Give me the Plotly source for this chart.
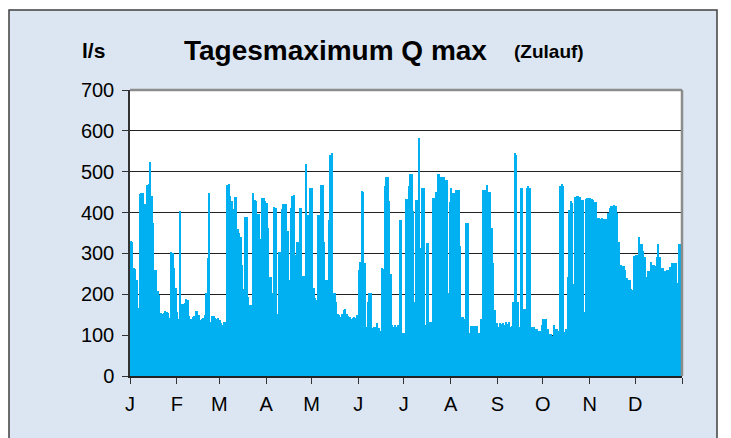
import numpy as np
import plotly.graph_objects as go

# Daily maximum inflow (l/s), one value per day
jan = [330,328,265,262,235,167,445,448,447,420,421,468,470,523,440,375,260,259,209,198,154,152,155,158,156,155,142,304,302,265,215]
feb = [156,140,405,176,176,178,188,186,148,140,144,148,160,158,150,138,140,142,150,203,289,447,133,148,146,142,140,142]
mar = [136,130,124,132,132,468,470,440,428,409,438,438,360,350,340,272,214,388,388,193,173,173,448,430,429,397,397,335,436,436,428]
apr = [424,363,242,243,203,413,412,152,304,304,409,421,421,420,356,235,410,440,442,296,327,327,410,410,244,244,520,395,394,461]
may = [461,215,191,185,395,394,467,467,327,235,235,382,540,547,203,202,180,152,149,144,152,162,164,152,147,144,140,142,144,142,150]
jun = [259,280,454,451,277,121,180,203,202,117,120,120,130,117,111,264,262,466,487,487,429,249,124,120,124,120,124,382,382,105]
jul = [105,433,433,465,494,494,405,182,431,431,582,313,459,459,125,325,325,132,132,435,435,451,494,494,486,486,486,480,480,203,427]
aug = [459,447,447,455,455,455,317,145,145,140,375,375,105,123,123,122,122,122,105,105,139,455,455,455,468,451,451,362,276,162,129]
sep = [120,130,128,130,125,132,128,132,120,122,181,547,540,181,120,461,459,165,165,461,465,459,121,121,120,115,115,111,111,126]
okt = [140,140,140,115,103,103,99,124,115,115,111,465,469,465,107,115,243,407,429,424,226,439,440,440,439,432,432,157,433,435,435]
nov = [435,433,431,427,427,386,386,385,386,385,384,385,398,410,416,417,419,416,400,329,272,270,269,259,239,236,235,212,210,294]
dez = [296,296,340,323,323,305,292,242,256,256,280,272,272,269,292,322,292,264,264,258,258,260,260,268,276,276,276,276,228,322,322]

month_labels = ["J", "F", "M", "A", "M", "J", "J", "A", "S", "O", "N", "D"]
y_ticks = [0, 100, 200, 300, 400, 500, 600, 700]

months = [jan, feb, mar, apr, may, jun, jul, aug, sep, okt, nov, dez]
values = [v for m in months for v in m]
month_lengths = [len(m) for m in months]
month_starts = [int(s) for s in np.concatenate([[0], np.cumsum(month_lengths)])]
n_days = len(values)
day_pos = np.arange(n_days) + 0.5

FONT = "Arial, Liberation Sans, sans-serif"
BAR = "#00b0f0"

fig = go.Figure()
fig.add_trace(go.Bar(
    x=day_pos, y=values, width=1.0,
    marker=dict(color=BAR, line=dict(width=0)),
    hoverinfo="skip",
))

# the page body adds an 8px offset; the figure is sized to fill the rest
OFF = 8
W, H = 731 - OFF, 438 - OFF
L, R, T, B = 130 - OFF, 731 - 682, 90 - OFF, 438 - 376
pw, ph = W - L - R, H - T - B

def px_x(px):
    return (px - OFF - L) / pw

def px_y(py):
    return (H - B - (py - OFF)) / ph

shapes = [
    dict(type="rect", xref="paper", yref="paper",
         x0=px_x(9), x1=px_x(717), y0=px_y(450), y1=px_y(10),
         fillcolor="#dce6f2", line=dict(color="#3f3f3f", width=1.5), layer="below"),
    dict(type="rect", xref="paper", yref="paper",
         x0=0, x1=1, y0=0, y1=1, fillcolor="white", line=dict(width=0), layer="below"),
    dict(type="line", xref="paper", yref="paper", x0=0, x1=1, y0=1, y1=1,
         line=dict(color="#8c8c8c", width=2.5)),
    dict(type="line", xref="paper", yref="paper", x0=1, x1=1, y0=0, y1=1,
         line=dict(color="#8c8c8c", width=2.5)),
]

annotations = [
    dict(text="<b>l/s</b>", xref="paper", yref="paper", x=px_x(93), y=px_y(50),
         showarrow=False, font=dict(family=FONT, size=21, color="black"),
         xanchor="center", yanchor="middle"),
    dict(text="<b>Tagesmaximum Q max</b>", xref="paper", yref="paper",
         x=px_x(335), y=px_y(50), showarrow=False,
         font=dict(family=FONT, size=28, color="black"),
         xanchor="center", yanchor="middle"),
    dict(text="<b>(Zulauf)</b>", xref="paper", yref="paper",
         x=px_x(549), y=px_y(52), showarrow=False,
         font=dict(family=FONT, size=19, color="black"),
         xanchor="center", yanchor="middle"),
]

fig.update_layout(
    width=W, height=H,
    margin=dict(l=L, r=R, t=T, b=B, pad=0),
    paper_bgcolor="white",
    plot_bgcolor="rgba(0,0,0,0)",
    bargap=0,
    showlegend=False,
    shapes=shapes,
    annotations=annotations,
    xaxis=dict(
        range=[0, n_days],
        tickvals=month_starts,
        ticktext=month_labels + [""],
        ticks="outside", ticklen=6, tickwidth=1.2, tickcolor="#333333",
        showline=True, linecolor="#222222", linewidth=1.5,
        showgrid=False, zeroline=False,
        ticklabelstandoff=3,
        tickfont=dict(family=FONT, size=20, color="black"),
        fixedrange=True,
    ),
    yaxis=dict(
        range=[0, 700],
        tickvals=y_ticks,
        ticks="outside", ticklen=6, tickwidth=1.2, tickcolor="#333333",
        showline=True, linecolor="#333333", linewidth=1.5,
        showgrid=True, gridcolor="#222222", gridwidth=1,
        zeroline=False,
        ticklabelstandoff=4,
        tickfont=dict(family=FONT, size=20, color="black"),
        fixedrange=True,
    ),
)

fig.write_html("out.html")
